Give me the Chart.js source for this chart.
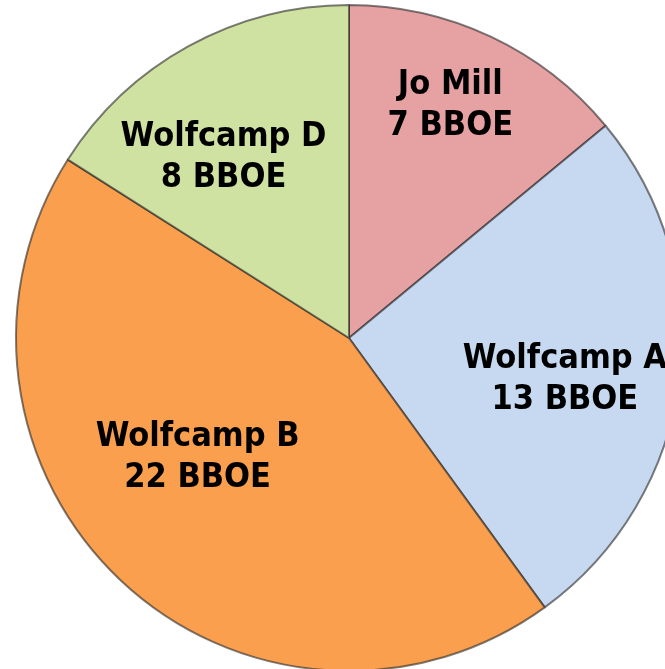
<!DOCTYPE html>
<html>
<head>
<meta charset="utf-8">
<script src="https://cdn.jsdelivr.net/npm/chart.js@4.4.1/dist/chart.umd.min.js"></script>
<style>
  html, body { margin: 0; padding: 0; background: #fff; overflow: hidden; }
  #wrap { width: 665px; height: 669px; overflow: hidden; position: relative; }
  #pie { position: absolute; left: 0; top: 0; }
</style>
</head>
<body>
<div id="wrap"><canvas id="pie" width="698" height="676"></canvas></div>
<script>
// Data
const zones = ["Jo Mill", "Wolfcamp A", "Wolfcamp B", "Wolfcamp D"];
const bboe = [7, 13, 22, 8];
const unit = "BBOE";

// Slice colours
const fills = ["#e6a1a3", "#c6d9f0", "#fa9f4d", "#d0e2a2"];

// label placement: [radius fraction, angle nudge in degrees]
const labelPlace = [[0.76, -1.6], [0.66, 3.6], [0.58, 8.4], [0.66, -6]];

// Draw the two-line labels on each slice
const sliceLabels = {
    id: "sliceLabels",
    afterDatasetsDraw(chart) {
        const ctx = chart.ctx;
        const arcs = chart.getDatasetMeta(0).data;
        ctx.save();
        ctx.fillStyle = "#000";
        ctx.textAlign = "center";
        ctx.textBaseline = "middle";
        ctx.font = "bold 34px 'DejaVu Sans Condensed', 'DejaVu Sans', sans-serif";
        arcs.forEach((arc, i) => {
            const p = arc.getProps(["x", "y", "startAngle", "endAngle", "outerRadius"], true);
            const mid = (p.startAngle + p.endAngle) / 2 + labelPlace[i][1] * Math.PI / 180;
            const r = p.outerRadius * labelPlace[i][0];
            const lx = p.x + Math.cos(mid) * r;
            const ly = p.y + Math.sin(mid) * r;
            ctx.fillText(zones[i], lx, ly - 20.5);
            ctx.fillText(bboe[i] + " " + unit, lx, ly + 20.5);
        });
        ctx.restore();
    }
};

new Chart(document.getElementById("pie"), {
    type: "pie",
    data: {
        labels: zones,
        datasets: [{
            data: bboe,
            backgroundColor: fills,
            borderColor: "rgba(40,40,40,0.6)",
            borderWidth: 2
        }]
    },
    options: {
        responsive: false,
        animation: false,
        layout: { padding: 4 },
        plugins: {
            legend: { display: false },
            tooltip: { enabled: false }
        }
    },
    plugins: [sliceLabels]
});
</script>
</body>
</html>
